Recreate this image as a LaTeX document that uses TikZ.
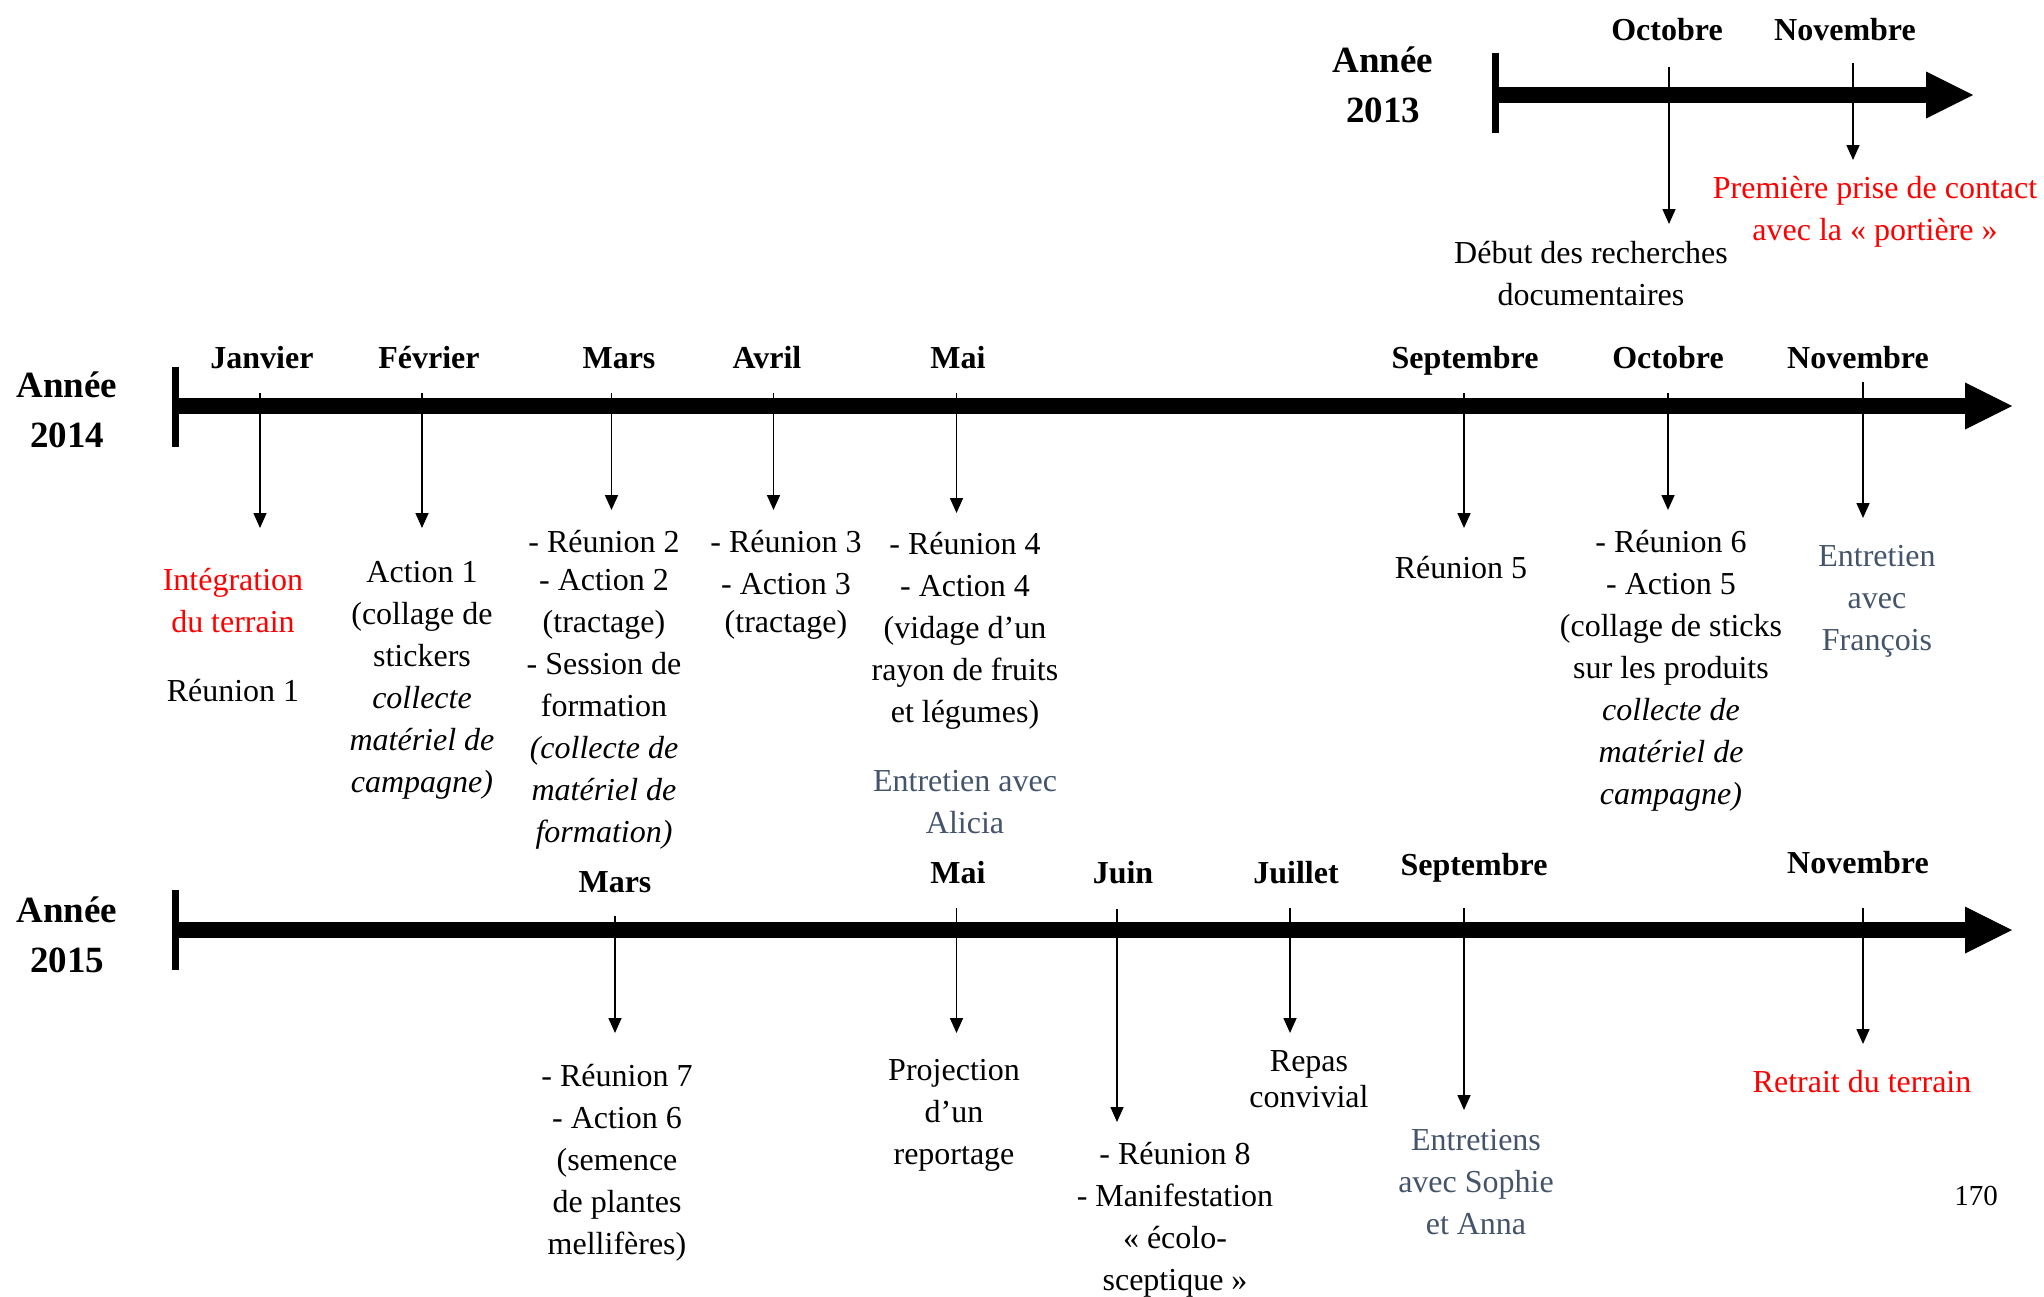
\documentclass[tikz,border=0pt]{standalone}
\usepackage{fontspec}
\setmainfont{Liberation Serif}
\usetikzlibrary{arrows.meta}

\definecolor{evred}{HTML}{FF0000}
\definecolor{evslate}{HTML}{44546A}

\newcommand\txtsize{\fontsize{32}{42}\selectfont}
\newcommand\monthsize{\fontsize{32}{40}\selectfont\bfseries}
\newcommand\yearsize{\fontsize{37}{50}\selectfont\bfseries}
\newcommand\pagesize{\fontsize{29}{34}\selectfont}

% multi-line nodes are anchored at the baseline of their last line
\tikzset{
  txt/.style={font=\txtsize, align=center, inner sep=0pt, anchor=base},
  evred/.style={txt, text=evred},
  evblue/.style={txt, text=evslate},
  month/.style={font=\monthsize, inner sep=0pt, anchor=base},
  yearlabel/.style={font=\yearsize, align=center, inner sep=0pt, anchor=base},
  tickarrow/.style={line width=1.6pt, -{Triangle[width=13pt,length=15pt]}},
}

% thick time axis: start bar, shaft and arrow head
\newcommand\timeaxis[5]{% bar x, axis y, bar top, bar bottom, head base x
  \fill (#1-3.5,#3) rectangle (#1+3.5,#4);
  \fill (#1,#2-8) rectangle (#5,#2+8);
  \fill (#5,#2-23.5) -- (#5+47,#2) -- (#5,#2+23.5) -- cycle;
}

\begin{document}
\begin{tikzpicture}[x=1pt,y=-1pt]
\useasboundingbox (0,0) rectangle (2044,1296);
\fill[white] (0,0) rectangle (2044,1296);

% ---------------- 2013 ----------------
\timeaxis{1495}{95}{53}{133}{1926}
\node[yearlabel] (y13) at (1383,122) {Année\\2013};
\node[month] (oct13) at (1667,40) {Octobre};
\node[month] (nov13) at (1845,40) {Novembre};
\coordinate (oct13s) at (1669,67);  \coordinate (oct13e) at (1669,224);
\coordinate (nov13s) at (1853,63);  \coordinate (nov13e) at (1853,160);
\draw[tickarrow] (oct13s) -- (oct13e);
\draw[tickarrow] (nov13s) -- (nov13e);
\node[txt] (debut) at (1591,305) {Début des recherches\\documentaires};
\node[evred] (contact) at (1875,240) {Première prise de contact\\avec la «~portière~»};

% ---------------- 2014 ----------------
\timeaxis{175.5}{406}{367}{447}{1965}
\node[yearlabel] (y14) at (67,447) {Année\\2014};
\node[month] (jan14) at (262,368) {Janvier};
\node[month] (feb14) at (429,368) {Février};
\node[month] (mar14) at (619,368) {Mars};
\node[month] (apr14) at (767,368) {Avril};
\node[month] (may14) at (958,368) {Mai};
\node[month] (sep14) at (1465,368) {Septembre};
\node[month] (oct14) at (1668,368) {Octobre};
\node[month] (nov14) at (1858,368) {Novembre};

\coordinate (jan14s) at (260,393);    \coordinate (jan14e) at (260,528);
\coordinate (feb14s) at (422,393);    \coordinate (feb14e) at (422,528);
\coordinate (mar14s) at (611.5,393);  \coordinate (mar14e) at (611.5,510);
\coordinate (apr14s) at (773.5,393);  \coordinate (apr14e) at (773.5,510);
\coordinate (may14s) at (956.5,393);  \coordinate (may14e) at (956.5,513);
\coordinate (sep14s) at (1464,393);   \coordinate (sep14e) at (1464,528);
\coordinate (oct14s) at (1668,393);   \coordinate (oct14e) at (1668,510);
\coordinate (nov14s) at (1863,382);   \coordinate (nov14e) at (1863,518);
\foreach \m in {jan14,feb14,mar14,apr14,may14,sep14,oct14,nov14}
  \draw[tickarrow] (\m s) -- (\m e);

\node[evred] (integ) at (233,632) {Intégration\\du terrain};
\node[txt] (reu1) at (233,701) {Réunion 1};
\node[txt] (act1) at (422,792) {Action 1\\(collage de\\stickers\\\textit{collecte}\\\textit{matériel de}\\\textit{campagne)}};
\node[txt] (reu2) at (604,842) {- Réunion 2\\[-4pt]- Action 2\\(tractage)\\- Session de\\formation\\\textit{(collecte de}\\\textit{matériel de}\\\textit{formation)}};
\node[txt] (reu3) at (786,632) {- Réunion 3\\- Action 3\\[-4pt](tractage)};
\node[txt] (reu4) at (965,722) {- Réunion 4\\- Action 4\\(vidage d’un\\rayon de fruits\\et légumes)};
\node[evblue] (alicia) at (965,833) {Entretien avec\\Alicia};
\node[txt] (reu5) at (1461,578) {Réunion 5};
\node[txt] (reu6) at (1671,804) {- Réunion 6\\- Action 5\\(collage de sticks\\sur les produits\\\textit{collecte de}\\\textit{matériel de}\\\textit{campagne)}};
\node[evblue] (francois) at (1877,650) {Entretien\\avec\\François};

% ---------------- 2015 ----------------
\timeaxis{175.5}{930}{890}{970}{1965}
\node[yearlabel] (y15) at (67,972) {Année\\2015};
\node[month] (mar15) at (615,892) {Mars};
\node[month] (may15) at (958,883) {Mai};
\node[month] (jun15) at (1123,883) {Juin};
\node[month] (jul15) at (1296,883) {Juillet};
\node[month] (sep15) at (1474,875) {Septembre};
\node[month] (nov15) at (1858,873) {Novembre};

\coordinate (mar15s) at (615,916);    \coordinate (mar15e) at (615,1033);
\coordinate (may15s) at (956.5,908);  \coordinate (may15e) at (956.5,1033);
\coordinate (jun15s) at (1117,909);   \coordinate (jun15e) at (1117,1122);
\coordinate (jul15s) at (1290,908);   \coordinate (jul15e) at (1290,1033);
\coordinate (sep15s) at (1464,908);   \coordinate (sep15e) at (1464,1110);
\coordinate (nov15s) at (1863,908);   \coordinate (nov15e) at (1863,1044);
\foreach \m in {mar15,may15,jun15,jul15,sep15,nov15}
  \draw[tickarrow] (\m s) -- (\m e);

\node[txt] (reu7) at (617,1254) {- Réunion 7\\- Action 6\\(semence\\de plantes\\mellifères)};
\node[txt] (proj) at (954,1164) {Projection\\d’un\\reportage};
\node[txt] (reu8) at (1175,1290) {- Réunion 8\\- Manifestation\\«~écolo-\\sceptique~»};
\node[txt] (repas) at (1309,1107) {Repas\\[-6pt]convivial};
\node[evblue] (sophie) at (1476,1234) {Entretiens\\avec Sophie\\et Anna};
\node[evred] (retrait) at (1862,1092) {Retrait du terrain};

\node[font=\pagesize, inner sep=0pt, anchor=base] (page) at (1976,1205) {170};
\end{tikzpicture}
\end{document}
